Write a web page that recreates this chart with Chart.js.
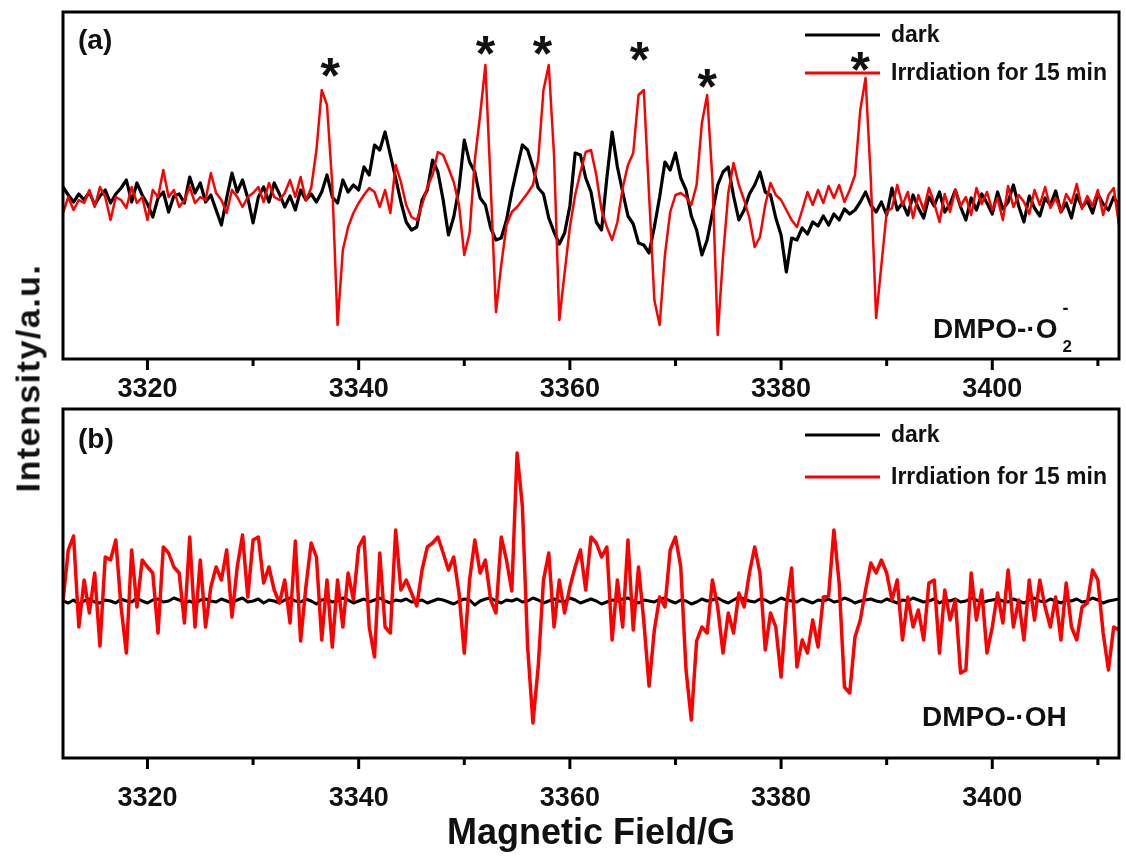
<!DOCTYPE html>
<html>
<head>
<meta charset="utf-8">
<script src="https://cdn.jsdelivr.net/npm/chart.js@4.4.1/dist/chart.umd.min.js"></script>
<style>
  body { margin: 0; background: #fff; }
  #wrap { position: relative; width: 1126px; height: 856px; overflow: hidden; background: #fff; }
  canvas { position: absolute; left: 0; }
  #chartA { top: 0; }
  #chartB { top: 400px; }
  #ytitle {
    position: absolute; left: 28px; top: 378px;
    transform: translate(-50%, -50%) rotate(-90deg);
    font: bold 34px "Liberation Sans", Arial, sans-serif;
    letter-spacing: 1.5px; white-space: nowrap; color: #111;
  }
</style>
</head>
<body>
<div id="wrap">
  <canvas id="chartA" width="1126" height="400"></canvas>
  <canvas id="chartB" width="1126" height="456"></canvas>
  <div id="ytitle">Intensity/a.u.</div>
</div>
<script>
// sweep: 3312 G to 3412 G, one reading every 0.5 G
var fieldStartG = 3312;
var fieldStepG = 0.5;

var tickValues = [3320, 3340, 3360, 3380, 3400];
var tickLabels = ['3320', '3340', '3360', '3380', '3400'];
var minorTickValues = [3330, 3350, 3370, 3390, 3410];
var seriesLabels = ['dark', 'Irrdiation for 15 min'];

// (a) DMPO-.O2- spectra
var darkA = [
  13, 5, -2, 6, 0, 8, -5, 4, 10, -3,
  6, 12, 20, -2, 17, 5, -4, -17, 2, 8,
  -12, 4, 6, -3, 23, 7, 17, -2, 5, -10,
  -25, 2, 27, 8, 20, 2, -23, 3, 13, -2,
  17, 6, -7, 4, -10, 10, 0, 6, -2, 8,
  25, 3, -3, 20, 8, 15, 10, 33, 25, 55,
  50, 68, 45, 22, -2, -22, -30, -27, 0, 10,
  40, 28, 0, -35, -17, 12, 60, 38, 28, 2,
  -5, -28, -40, -38, -20, 8, 32, 55, 50, 33,
  12, 6, -18, -32, -44, -33, -6, 47, 45, 22,
  8, -22, -30, 22, 68, 33, 8, -16, -24, -43,
  -45, -53, -27, 3, 38, 30, 47, 22, 10, -16,
  -30, -55, -40, -13, 15, 28, 33, 4, -20, -10,
  6, 15, 28, 8, 5, -18, -35, -72, -38, -40,
  -28, -34, -22, -26, -16, -25, -14, -20, -9, -14,
  -10, -2, 8, -5, -12, -2, -15, 12, -10, -3,
  -15, 5, -8, -18, 3, -6, 8, -12, -4, 10,
  -7, -20, 2, -10, 6, -3, -14, 8, -9, -2,
  15, -6, -22, 4, -8, -16, 2, -5, 9, -12,
  -3, -18, 5, -7, -1, -13, 6, -4, -10, 3,
  -6
];
var irrA = [
  -13, 3, -10, 0, -3, 10, -7, 13, 3, -20,
  3, 0, -8, 13, -3, 3, -20, 10, 3, 30,
  3, 10, -7, 0, 13, -3, 3, 0, 27, 7,
  0, -13, 10, 3, -7, 3, 7, 13, -2, 17,
  3, 0, 7, 20, 3, 23, 0, 12, 50, 110,
  95, 15, -125, -50, -27, -13, -3, 5, 12, 8,
  -7, 10, -13, 35, 18, -5, -17, -20, -5, 13,
  25, 48, 45, 32, 18, -5, -55, -33, 40, 85,
  135, 15, -112, -65, -25, -12, -7, 0, 7, 15,
  40, 110, 135, 45, -120, -73, -27, 5, 28, 48,
  50, 25, -10, -27, -40, -22, 12, 35, 47, 105,
  110, 5, -100, -125, -55, -12, 5, 7, 3, -5,
  15, 77, 105, 20, -135, -57, 7, 37, 15, 0,
  -18, -47, -37, -5, 17, 5, 0, -10, -20, -27,
  -10, 8, -5, 10, -3, 14, 2, 15, -2, 10,
  25, 90, 122, 20, -118, -65, -12, -8, 15, -5,
  8, -18, 5, -10, 12, -3, -22, 6, -12, 10,
  -6, 3, -15, 12, -4, 8, -10, 2, -20, 14,
  -7, 5, -2, -14, 10, -5, 13, -8, 2, -12,
  6, -3, 16, -9, 4, -6, 10, -15, 5, 12,
  -25
];

// (b) DMPO-.OH spectra
var darkB = [
  0, -2, 1, -3, 0, 2, -1, -2, 1, 0,
  -2, 2, 0, -1, 3, 0, -2, 1, 2, -1,
  0, 3, 1, -2, 0, -3, 1, 2, 0, -1,
  2, 0, -2, 1, 3, -1, 0, 2, -2, 1,
  0, -2, 1, 3, 0, -1, 2, 0, -3, 1,
  2, -1, 0, 3, 1, -2, 0, 2, -1, 1,
  3, 0, -2, 1, 0, 2, -1, 0, 1, -2,
  0, 2, 1, -1, -3, 0, 2, 1, -4, 0,
  2, 3, 0, -2, 1, 0, 2, -1, 0, 3,
  1, -2, 0, 2, 0, -1, 3, 1, -2, 0,
  2, 0, -3, -1, 1, 0, 2, 3, 0, -2,
  1, 0, -1, 2, 3, 0, -2, 1, 0, -3,
  -1, 2, 0, 1, 3, 0, -2, 1, 4, 2,
  0, -1, 2, 1, -2, 0, 3, 1, 0, -1,
  2, 0, -2, 1, 0, 2, -1, 0, 3, 1,
  -2, 0, 1, 2, 0, -1, 2, 0, -2, 1,
  0, 3, 1, -1, 0, 2, -2, 1, 0, 2,
  -1, 0, 3, 1, -2, 0, 1, 2, 0, -1,
  2, 0, -2, 1, 3, 0, -1, 2, 0, -2,
  1, 0, 2, -1, 0, 3, 1, -2, 0, 1,
  2
];
var irrB = [
  0, 51, 65, -26, 21, -12, 28, -45, 44, 41,
  61, -6, -52, 51, -6, 41, 34, 28, -32, 54,
  48, 34, 28, -22, 64, -26, 41, -26, 14, 34,
  21, 51, -16, 34, 66, 4, 61, 64, 18, 34,
  11, -2, 21, -22, 60, -40, 14, 58, 44, -39,
  21, -46, 21, -26, 28, 1, 54, 64, -26, -56,
  48, -26, -32, 71, 11, 21, 8, -5, 31, 54,
  58, 64, 48, 31, 44, 8, -52, 21, 61, 28,
  41, 1, -12, 64, 41, 10, 148, 95, -46, -122,
  -66, 21, 48, -26, 21, -12, 14, 34, 51, 11,
  64, 58, 44, 54, -39, 21, -26, 61, -29, 34,
  -20, -85, -29, 4, -6, 51, 64, 34, -69, -119,
  -40, -26, -32, 21, -6, -52, -12, -32, 8, -6,
  28, 54, 28, -49, -12, -26, -76, -6, 33, -66,
  -39, -52, -19, -46, 4, 5, 71, 18, -86, -92,
  -36, -19, 11, 38, 28, 41, 28, 1, 21, -39,
  4, -26, -9, -39, 18, 21, -52, 11, -19, 1,
  -72, -69, 28, -19, 11, -52, -26, 8, -22, 31,
  -26, 1, -39, 21, -19, 21, -6, -26, 4, -39,
  18, -26, -39, -6, -2, 31, 21, -32, -69, -26,
  -29
];

// asterisks over the DMPO-.O2- lines in (a)
var starFields = [3337.3, 3352.0, 3357.4, 3366.6, 3373.0, 3387.5];
var starLevels = [136, 158, 158, 152, 125, 142];

var fieldG = darkA.map(function (v, i) { return fieldStartG + fieldStepG * i; });

function toPoints(vals) {
  return vals.map(function (v, i) { return { x: fieldG[i], y: v }; });
}

var FONT = '"Liberation Sans", Arial, sans-serif';
Chart.defaults.font.family = FONT;

var panelPlugin = {
  id: 'panel',
  afterDraw: function (chart, args, o) {
    var ctx = chart.ctx, a = chart.chartArea;
    var xs = chart.scales.x, ys = chart.scales.y;
    ctx.save();
    // frame
    ctx.strokeStyle = '#000';
    ctx.lineWidth = 3;
    ctx.strokeRect(a.left, a.top, a.right - a.left, a.bottom - a.top);
    // major + minor ticks
    ctx.beginPath();
    tickValues.forEach(function (v) {
      var px = xs.getPixelForValue(v);
      ctx.moveTo(px, a.bottom); ctx.lineTo(px, a.bottom + 11);
    });
    minorTickValues.forEach(function (v) {
      var px = xs.getPixelForValue(v);
      ctx.moveTo(px, a.bottom); ctx.lineTo(px, a.bottom + 7);
    });
    ctx.stroke();

    // legend
    ctx.font = 'bold 23px ' + FONT;
    ctx.textAlign = 'left';
    ctx.textBaseline = 'middle';
    chart.data.datasets.forEach(function (ds, i) {
      var ly = o.legendY[i];
      ctx.strokeStyle = ds.borderColor;
      ctx.lineWidth = 3;
      ctx.beginPath(); ctx.moveTo(805, ly); ctx.lineTo(880, ly); ctx.stroke();
      ctx.fillStyle = '#111';
      ctx.fillText(ds.label, 891, ly + 1);
    });

    // asterisks
    if (o.stars) {
      ctx.font = 'bold 50px ' + FONT;
      ctx.textAlign = 'center';
      ctx.textBaseline = 'alphabetic';
      ctx.fillStyle = '#111';
      starFields.forEach(function (g, i) {
        ctx.fillText('*', xs.getPixelForValue(g), ys.getPixelForValue(starLevels[i]) + 29);
      });
    }

    // panel tag
    ctx.textAlign = 'left';
    ctx.textBaseline = 'alphabetic';
    ctx.fillStyle = '#111';
    ctx.font = 'bold 28px ' + FONT;
    ctx.fillText(o.tag, 78, o.tagY);

    // species label
    ctx.font = 'bold 28px ' + FONT;
    ctx.fillText(o.species, o.speciesX, o.speciesY);
    if (o.sub) {
      var w = ctx.measureText(o.species).width;
      ctx.font = 'bold 18px ' + FONT;
      ctx.fillText('-', o.speciesX + w + 5, o.speciesY - 24);
      ctx.font = 'bold 17px ' + FONT;
      ctx.fillText(o.sub, o.speciesX + w + 5, o.speciesY + 14);
    }
    ctx.restore();
  }
};

function makePanel(id, dark, irr, yMin, yMax, padTop, axisHeight, tickPad, showTitle, panelOpts, widths) {
  return new Chart(document.getElementById(id), {
    type: 'line',
    data: {
      datasets: [
        { label: seriesLabels[0], data: toPoints(dark), borderColor: '#000000', borderWidth: widths[0], order: 1 },
        { label: seriesLabels[1], data: toPoints(irr), borderColor: '#ff0000', borderWidth: widths[1], order: 0 }
      ]
    },
    options: {
      responsive: false,
      animation: false,
      events: [],
      devicePixelRatio: 1,
      layout: { padding: { left: 63, right: 7, top: padTop, bottom: 0 } },
      elements: {
        point: { radius: 0 },
        line: { tension: 0, borderJoinStyle: 'round', borderCapStyle: 'round' }
      },
      scales: {
        x: {
          type: 'linear',
          min: 3312,
          max: 3412,
          grid: { display: false, drawTicks: false },
          border: { display: false },
          afterBuildTicks: function (s) {
            s.ticks = tickValues.map(function (v) { return { value: v }; });
          },
          afterFit: function (s) { s.height = axisHeight; },
          ticks: {
            autoSkip: false,
            maxRotation: 0,
            padding: tickPad,
            color: '#111',
            font: { size: 27, weight: 'bold' },
            callback: function (v, i) { return tickLabels[i]; }
          },
          title: {
            display: showTitle,
            text: 'Magnetic Field/G',
            color: '#111',
            font: { size: 36, weight: 'bold' },
            padding: { top: 0, bottom: 0 }
          }
        },
        y: { display: false, min: yMin, max: yMax }
      },
      plugins: {
        legend: { display: false },
        tooltip: { enabled: false },
        panel: panelOpts
      }
    },
    plugins: [panelPlugin]
  });
}

makePanel('chartA', darkA, irrA, -159, 188, 12, 41, 14, false, {
  legendY: [35, 73], tag: '(a)', tagY: 49,
  species: 'DMPO-\u00B7O', sub: '2', speciesX: 933, speciesY: 338, stars: true
}, [3.2, 2.5]);

makePanel('chartB', darkB, irrB, -157, 192, 9, 98, 24, true, {
  legendY: [35, 77], tag: '(b)', tagY: 48,
  species: 'DMPO-\u00B7OH', sub: null, speciesX: 922, speciesY: 326, stars: false
}, [3, 3.5]);
</script>
</body>
</html>
